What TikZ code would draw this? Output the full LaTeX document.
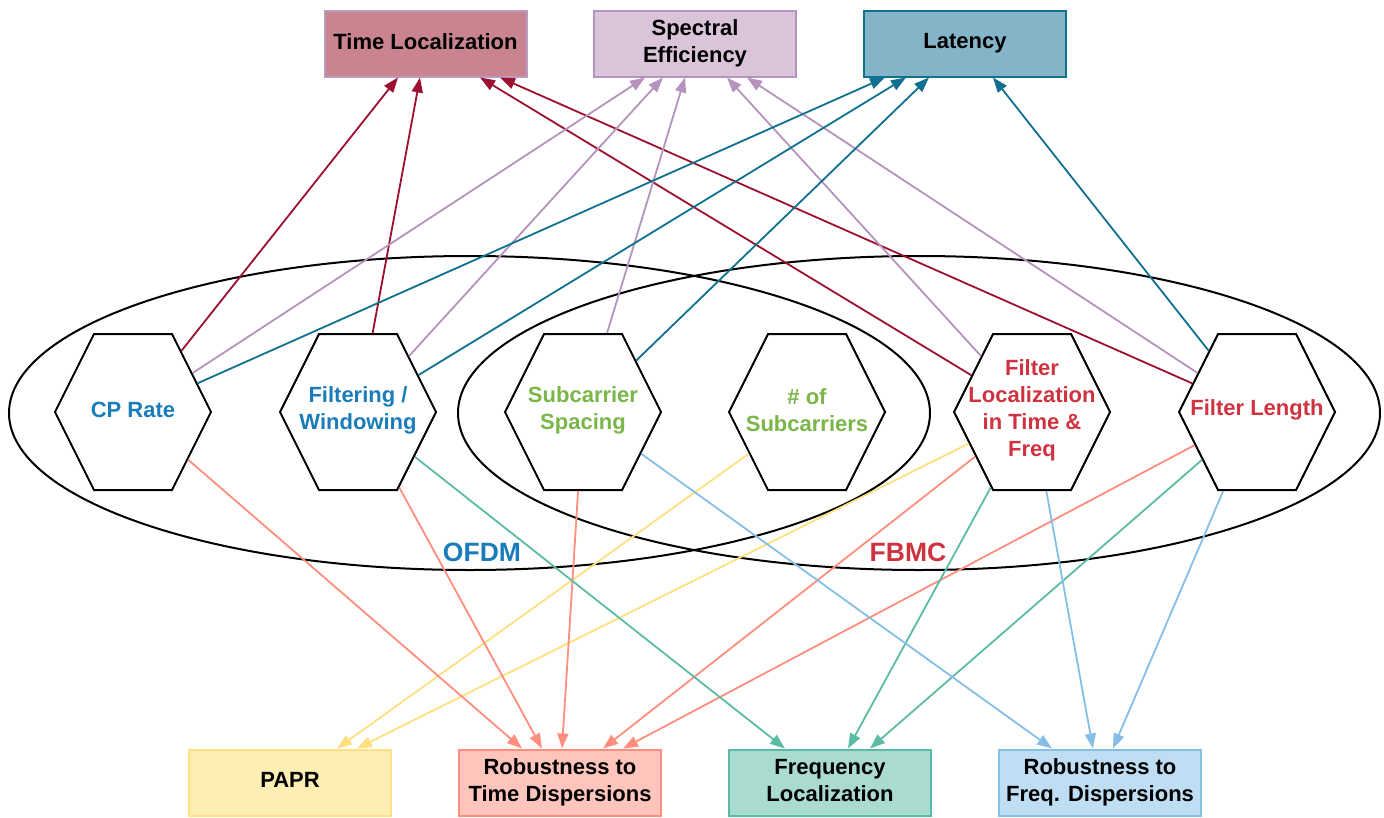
\documentclass[tikz,border=0pt]{standalone}
\usepackage{fontspec}
\setmainfont{Liberation Sans}
\usetikzlibrary{shapes.geometric,arrows.meta}
\definecolor{tlfill}{HTML}{CA8490}
\definecolor{tlborder}{HTML}{B99BC4}
\definecolor{sefill}{HTML}{D9C4D9}
\definecolor{seborder}{HTML}{B595BF}
\definecolor{lafill}{HTML}{83B4C7}
\definecolor{laborder}{HTML}{10708F}
\definecolor{pafill}{HTML}{FFEEB4}
\definecolor{paborder}{HTML}{FFE085}
\definecolor{rtfill}{HTML}{FFC5BC}
\definecolor{rtborder}{HTML}{FF8E7E}
\definecolor{flfill}{HTML}{A9DBD1}
\definecolor{flborder}{HTML}{5BBBA3}
\definecolor{rffill}{HTML}{BFDDF3}
\definecolor{rfborder}{HTML}{85BFE6}
\definecolor{tlc}{HTML}{9C0F2E}
\definecolor{sec}{HTML}{B493BD}
\definecolor{lac}{HTML}{10708F}
\definecolor{pac}{HTML}{FFDF80}
\definecolor{rtc}{HTML}{FF8E7E}
\definecolor{flc}{HTML}{5BBBA3}
\definecolor{rfc}{HTML}{85BFE6}
\definecolor{ofdmblue}{HTML}{1A7DBA}
\definecolor{scgreen}{HTML}{7AB648}
\definecolor{fbmcred}{HTML}{CF3340}
\begin{document}
\begin{tikzpicture}[x=1pt,y=-1pt,
  box/.style={draw, line width=2pt, minimum width=202pt, minimum height=66pt, inner sep=0pt,
    align=center, text depth=4.7pt, font=\fontsize{22}{27}\selectfont\bfseries, text=black},
  hexa/.style={regular polygon, regular polygon sides=6, minimum size=156pt, inner sep=0pt,
    draw=black, line width=2pt, fill=white, yscale=1.1547, transform shape},
  hextext/.style={align=center, inner sep=0pt, font=\fontsize{22}{27}\selectfont\bfseries},
  conn/.style={line width=1.8pt, -{Triangle[length=15pt,width=11pt]}},
  grouplabel/.style={font=\fontsize{26.5}{30}\selectfont\bfseries, inner sep=0pt}]
\useasboundingbox (0,0) rectangle (1384,817);
% ellipses
\draw[line width=2pt] (469.5,413) ellipse [x radius=460.5pt, y radius=157pt];
\draw[line width=2pt] (919,413) ellipse [x radius=461pt, y radius=157pt];
% boxes
\node[box, fill=tlfill, draw=tlborder] (tl) at (425.5,43.5) {Time Localization};
\node[box, fill=sefill, draw=seborder] (se) at (695,43.5) {Spectral\\Efficiency};
\node[box, fill=lafill, draw=laborder] (la) at (965,43.5) {Latency};
\node[box, fill=pafill, draw=paborder] (pa) at (290,782.5) {PAPR};
\node[box, fill=rtfill, draw=rtborder] (rt) at (560,782.5) {Robustness to\\Time Dispersions};
\node[box, fill=flfill, draw=flborder] (fq) at (830,782.5) {Frequency\\Localization};
\node[box, fill=rffill, draw=rfborder] (rf) at (1100,782.5) {Robustness to\\Freq. Dispersions};
% hexagons
\node[hexa] (cp) at (133,412) {};
\node[hexa] (fw) at (358,412) {};
\node[hexa] (ss) at (583,412) {};
\node[hexa] (ns) at (807,412) {};
\node[hexa] (fl) at (1032,412) {};
\node[hexa] (flen) at (1257,412) {};
\node[hextext, text=ofdmblue] (cpt) at (133,410) {CP Rate};
\node[hextext, text=ofdmblue] (fwt) at (358,410) {Filtering /\\Windowing};
\node[hextext, text=scgreen] (sst) at (583,410) {Subcarrier\\Spacing};
\node[hextext, text=scgreen] (nst) at (807,410) {\# of\\Subcarriers};
\node[hextext, text=fbmcred] (flt) at (1032,410) {Filter\\Localization\\in Time \&\\Freq};
\node[hextext, text=fbmcred] (flent) at (1257,410) {Filter Length};
% group labels
\node[grouplabel, text=ofdmblue] (ofdm) at (482,552) {OFDM};
\node[grouplabel, text=fbmcred] (fbmc) at (908,552) {FBMC};
% connectors to Time Localization
\draw[conn, tlc] (cp) -- ([xshift=-27.5pt]tl.south);
\draw[conn, tlc] (fw) -- ([xshift=-5.5pt]tl.south);
\draw[conn, tlc] (fl) -- ([xshift=54.5pt]tl.south);
\draw[conn, tlc] (flen) -- ([xshift=74.5pt]tl.south);
% to Spectral Efficiency
\draw[conn, sec] (cp) -- ([xshift=-50pt]se.south);
\draw[conn, sec] (fw) -- ([xshift=-32pt]se.south);
\draw[conn, sec] (ss) -- ([xshift=-10pt]se.south);
\draw[conn, sec] (fl) -- ([xshift=32pt]se.south);
\draw[conn, sec] (flen) -- ([xshift=52pt]se.south);
% to Latency
\draw[conn, lac] (cp) -- ([xshift=-80pt]la.south);
\draw[conn, lac] (fw) -- ([xshift=-59pt]la.south);
\draw[conn, lac] (ss) -- ([xshift=-36pt]la.south);
\draw[conn, lac] (flen) -- ([xshift=28pt]la.south);
% to PAPR
\draw[conn, pac] (ns) -- ([xshift=47pt]pa.north);
\draw[conn, pac] (fl) -- ([xshift=67pt]pa.north);
% to Robustness to Time Dispersions
\draw[conn, rtc] (cp) -- ([xshift=-38pt]rt.north);
\draw[conn, rtc] (fw) -- ([xshift=-18pt]rt.north);
\draw[conn, rtc] (ss) -- ([xshift=2pt]rt.north);
\draw[conn, rtc] (fl) -- ([xshift=43pt]rt.north);
\draw[conn, rtc] (flen) -- ([xshift=63pt]rt.north);
% to Frequency Localization
\draw[conn, flc] (fw) -- ([xshift=-45pt]fq.north);
\draw[conn, flc] (fl) -- ([xshift=18pt]fq.north);
\draw[conn, flc] (flen) -- ([xshift=40pt]fq.north);
% to Robustness to Freq. Dispersions
\draw[conn, rfc] (ss) -- ([xshift=-48pt]rf.north);
\draw[conn, rfc] (fl) -- ([xshift=-7pt]rf.north);
\draw[conn, rfc] (flen) -- ([xshift=13pt]rf.north);
\end{tikzpicture}
\end{document}
